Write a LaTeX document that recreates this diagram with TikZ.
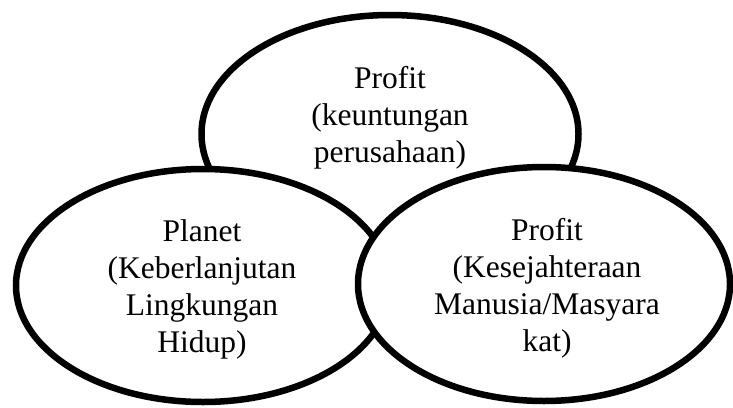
\documentclass[tikz,border=0pt]{standalone}
\usepackage{fontspec}
\setmainfont{Liberation Serif}
\begin{document}
\begin{tikzpicture}[x=1pt,y=-1pt,
  circ/.style={draw=black, fill=white, line width=6.5pt},
  lbl/.style={align=center, font=\fontsize{31.5}{37}\selectfont, inner sep=0pt, anchor=base}]
\useasboundingbox (0,0) rectangle (733,407);
\coordinate (ctop) at (390,134);
\coordinate (cleft) at (203,285.5);
\coordinate (cright) at (544,284);
\draw[circ] (ctop) ellipse [x radius=188.5pt, y radius=119pt];
\draw[circ] (cleft) ellipse [x radius=187pt, y radius=116.5pt];
\draw[circ] (cright) ellipse [x radius=186pt, y radius=117pt];
\node[lbl] (ttop) at (390,162) {Profit\\(keuntungan\\perusahaan)};
\node[lbl] (tleft) at (202,352.7) {Planet\\(Keberlanjutan\\Lingkungan\\Hidup)};
\node[lbl] (tright) at (547,351) {Profit\\(Kesejahteraan\\Manusia/Masyara\\kat)};
\end{tikzpicture}
\end{document}
